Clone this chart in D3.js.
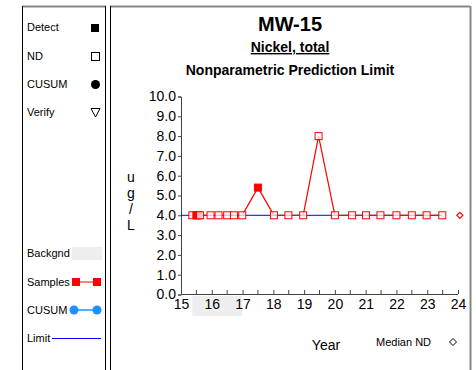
<!DOCTYPE html>
<html><head><meta charset="utf-8">
<script src="https://cdn.jsdelivr.net/npm/d3@7"></script>
<style>body{margin:0;background:#fff;}svg{display:block;font-family:"Liberation Sans",Arial,sans-serif;}</style>
</head><body><svg id="c" width="476" height="370"></svg>
<script>
const dates = [15.37,15.50,15.56,15.62,15.96,16.22,16.50,16.72,16.99,17.50,18.02,18.49,18.97,19.47,20.00,20.56,21.01,21.48,22.00,22.50,22.98,23.49];
const values = [4,4,4,4,4,4,4,4,4,5.4,4,4,4,8,4,4,4,4,4,4,4,4];
const detect = [false,true,true,false,false,false,false,false,false,true,false,false,false,false,false,false,false,false,false,false,false,false];
const limitValue = [4.0];
const limitRange = [15, 23.49];
const backgroundRange = [15.37, 16.99];
const medianND = [{x:24.06, y:4.0}];
const xTicks = d3.range(15, 25, 1);
const xMinorTicks = d3.range(15.5, 24, 1);
const yTicks = d3.range(0, 11, 1);
const titles = ["MW-15", "Nickel, total", "Nonparametric Prediction Limit"];
const yLabel = ["u","g","/","L"];

const svg = d3.select("#c");
// panels
svg.append("line").attr("x1",22).attr("x2",470).attr("y1",6.5).attr("y2",6.5).attr("stroke","#888").attr("stroke-width",2);
svg.append("line").attr("x1",22.5).attr("x2",22.5).attr("y1",6).attr("y2",370).attr("stroke","#000");
svg.append("line").attr("x1",105.5).attr("x2",105.5).attr("y1",6).attr("y2",370).attr("stroke","#000");
svg.append("line").attr("x1",110.5).attr("x2",110.5).attr("y1",6).attr("y2",370).attr("stroke","#000");
svg.append("line").attr("x1",470.5).attr("x2",470.5).attr("y1",6).attr("y2",370).attr("stroke","#888").attr("stroke-width",2);
svg.append("rect").attr("x",106).attr("y",5).attr("width",4).attr("height",3).attr("fill","#fff");

// titles
svg.append("text").attr("x",290).attr("y",31).attr("text-anchor","middle").attr("font-size",20).attr("font-weight","bold").text(titles[0]);
svg.append("text").attr("x",290).attr("y",52).attr("text-anchor","middle").attr("font-size",14).attr("font-weight","bold").attr("text-decoration","underline").text(titles[1]);
svg.append("text").attr("x",290).attr("y",75).attr("text-anchor","middle").attr("font-size",14).attr("font-weight","bold").text(titles[2]);

const x = d3.scaleLinear().domain([15,24]).range([181,458]);
const y = d3.scaleLinear().domain([0,10]).range([294.5,96.5]);

// background band below axis
svg.append("rect").attr("x",x(backgroundRange[0])).attr("y",296).attr("width",x(backgroundRange[1])-x(backgroundRange[0])).attr("height",20).attr("fill","#eeeeee");

// axes
const gy = svg.append("g").attr("transform","translate(181,0)")
  .call(d3.axisLeft(y).tickValues(yTicks).tickFormat(d3.format(".1f")).tickSize(3).tickPadding(2));
gy.selectAll("text").attr("font-size",14).attr("fill","#000").attr("font-family","Liberation Sans, Arial, sans-serif");
gy.selectAll("line,path").attr("stroke","#444");
const gx = svg.append("g").attr("transform","translate(0,294)")
  .call(d3.axisBottom(x).tickValues(xTicks).tickFormat(d3.format("d")).tickSize(-4).tickPadding(5));
gx.selectAll("text").attr("font-size",14).attr("fill","#000").attr("font-family","Liberation Sans, Arial, sans-serif");
gx.selectAll("line,path").attr("stroke","#444");
gx.select(".domain").attr("d", `M${x(15)},0.5H${x(24)}`);
svg.append("g").selectAll("line").data(xMinorTicks).join("line")
  .attr("x1",d=>x(d)).attr("x2",d=>x(d)).attr("y1",294).attr("y2",290).attr("stroke","#444");

// y label
svg.append("g").selectAll("text").data(yLabel).join("text")
  .attr("x",131).attr("y",(d,i)=>182+i*16).attr("text-anchor","middle").attr("font-size",14).text(d=>d);

// limit line
svg.append("line").attr("x1",x(limitRange[0])).attr("x2",x(limitRange[1])).attr("y1",y(limitValue[0])).attr("y2",y(limitValue[0])).attr("stroke","#0000ff").attr("stroke-width",1);

// samples line
const pts = dates.map((d,i)=>({x:d,y:values[i],det:detect[i]}));
svg.append("path").datum(pts).attr("d",d3.line().x(d=>x(d.x)).y(d=>y(d.y))).attr("fill","none").attr("stroke","#ff0000").attr("stroke-width",1.2);
svg.append("g").selectAll("rect").data(pts).join("rect")
  .attr("x",d=>x(d.x)-3.5).attr("y",d=>y(d.y)-3.5).attr("width",7).attr("height",7)
  .attr("fill",d=>d.det?"#ff0000":"#fff").attr("fill-opacity",d=>d.det?1:0.75).attr("stroke","#ff0000").attr("stroke-width",1);

// median ND diamond
svg.append("g").selectAll("path").data(medianND).join("path")
  .attr("d",d=>`M${x(d.x)},${y(d.y)-3}L${x(d.x)+3},${y(d.y)}L${x(d.x)},${y(d.y)+3}L${x(d.x)-3},${y(d.y)}Z`)
  .attr("fill","#fff").attr("stroke","#ff0000").attr("stroke-width",1.2);

// x label & median legend
svg.append("text").attr("x",326).attr("y",350).attr("text-anchor","middle").attr("font-size",14).text("Year");
svg.append("text").attr("x",376).attr("y",346).attr("font-size",11).text("Median ND");
svg.append("path").attr("d","M453,338.5L456.5,342L453,345.5L449.5,342Z").attr("fill","#fff").attr("stroke","#000").attr("stroke-width",1);

// left legend
const L = svg.append("g").attr("font-size",11);
L.append("text").attr("x",27).attr("y",31).text("Detect");
L.append("rect").attr("x",91).attr("y",24).attr("width",8).attr("height",8).attr("fill","#000");
L.append("text").attr("x",27).attr("y",60).text("ND");
L.append("rect").attr("x",91.5).attr("y",52.5).attr("width",8).attr("height",8).attr("fill","#fff").attr("stroke","#000");
L.append("text").attr("x",27).attr("y",88).text("CUSUM");
L.append("circle").attr("cx",95.5).attr("cy",84.5).attr("r",4.5).attr("fill","#000");
L.append("text").attr("x",27).attr("y",116).text("Verify");
L.append("path").attr("d","M91,108.5L100,108.5L95.5,117Z").attr("fill","#fff").attr("stroke","#000");
L.append("text").attr("x",27).attr("y",257).text("Backgnd");
L.append("rect").attr("x",72).attr("y",247).attr("width",30).attr("height",13).attr("fill","#eeeeee");
L.append("text").attr("x",27).attr("y",286).text("Samples");
L.append("line").attr("x1",76).attr("x2",97).attr("y1",282).attr("y2",282).attr("stroke","#ff0000");
L.append("rect").attr("x",72).attr("y",278).attr("width",8).attr("height",8).attr("fill","#ff0000");
L.append("rect").attr("x",93).attr("y",278).attr("width",8).attr("height",8).attr("fill","#ff0000");
L.append("text").attr("x",27).attr("y",314).text("CUSUM");
L.append("line").attr("x1",74).attr("x2",97).attr("y1",310).attr("y2",310).attr("stroke","#1e90ff").attr("stroke-width",1.5);
L.append("circle").attr("cx",74).attr("cy",310).attr("r",4.5).attr("fill","#1e90ff");
L.append("circle").attr("cx",97).attr("cy",310).attr("r",4.5).attr("fill","#1e90ff");
L.append("text").attr("x",27).attr("y",342).text("Limit");
L.append("line").attr("x1",52).attr("x2",101).attr("y1",338.5).attr("y2",338.5).attr("stroke","#0000ff");
</script></body></html>
